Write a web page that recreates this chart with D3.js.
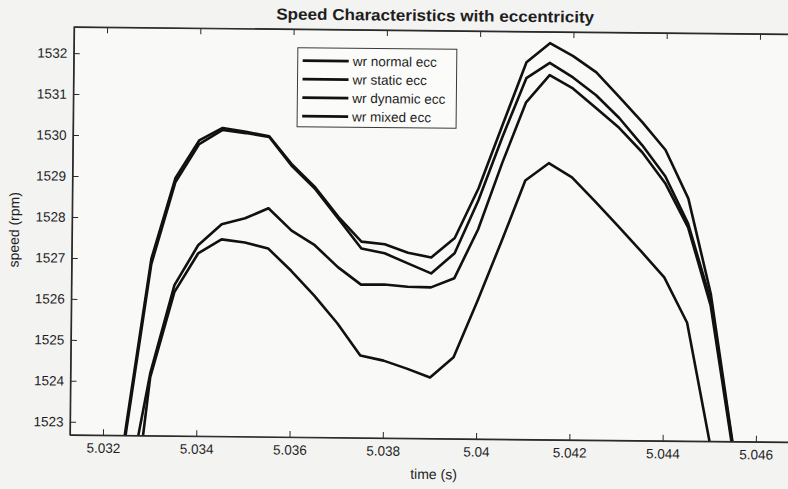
<!DOCTYPE html>
<html>
<head>
<meta charset="utf-8">
<script src="https://cdn.jsdelivr.net/npm/d3@7"></script>
<style>
  html, body { margin: 0; padding: 0; background: #f3f3f2; }
  svg { display: block; }
  text { font-family: "Liberation Sans", Arial, Helvetica, sans-serif; fill: #1e1e1e; }
</style>
</head>
<body>
<svg id="chart" width="788" height="489"></svg>
<script>
// ---- data ----
const time = [5.032, 5.0325, 5.033, 5.0335, 5.034, 5.0345, 5.035, 5.0355, 5.036, 5.0365,
              5.037, 5.0375, 5.038, 5.0385, 5.039, 5.0395, 5.040, 5.0405, 5.041, 5.0415,
              5.042, 5.0425, 5.043, 5.0435, 5.044, 5.0445, 5.045, 5.0455, 5.046];

const wrNormal  = [1518.6, 1522.96, 1527.00, 1528.98, 1529.90, 1530.21, 1530.12, 1530.02, 1529.33, 1528.78,
                   1528.07, 1527.47, 1527.41, 1527.21, 1527.10, 1527.58, 1528.80, 1530.35, 1531.89, 1532.36,
                   1532.05, 1531.66, 1531.06, 1530.45, 1529.78, 1528.60, 1526.29, 1522.66, 1518.2];
const wrStatic  = [1518.4, 1522.81, 1526.87, 1528.88, 1529.81, 1530.16, 1530.09, 1530.00, 1529.29, 1528.74,
                   1528.02, 1527.30, 1527.19, 1526.95, 1526.71, 1527.21, 1528.51, 1530.06, 1531.50, 1531.88,
                   1531.53, 1531.10, 1530.55, 1529.89, 1529.14, 1527.99, 1526.12, 1522.61, 1518.2];
const wrDynamic = [1516.5, 1521.06, 1524.20, 1526.36, 1527.34, 1527.86, 1528.01, 1528.26, 1527.72, 1527.37,
                   1526.84, 1526.42, 1526.43, 1526.38, 1526.37, 1526.60, 1527.80, 1529.42, 1530.91, 1531.58,
                   1531.26, 1530.79, 1530.31, 1529.72, 1528.97, 1527.90, 1526.00, 1522.51, 1518.2];
const wrMixed   = [1514.5, 1519.05, 1524.10, 1526.19, 1527.14, 1527.49, 1527.42, 1527.28, 1526.74, 1526.14,
                   1525.47, 1524.69, 1524.57, 1524.38, 1524.17, 1524.67, 1526.05, 1527.50, 1529.00, 1529.43,
                   1529.09, 1528.51, 1527.91, 1527.30, 1526.67, 1525.57, 1522.71, 1518.5, 1515.0];

const seriesNames = ["wr normal ecc", "wr static ecc", "wr dynamic ecc", "wr mixed ecc"];
const seriesValues = [wrNormal, wrStatic, wrDynamic, wrMixed];

const xTicks = [5.032, 5.034, 5.036, 5.038, 5.040, 5.042, 5.044, 5.046];
const xTickLabels = ["5.032", "5.034", "5.036", "5.038", "5.04", "5.042", "5.044", "5.046"];
const yTicks = [1523, 1524, 1525, 1526, 1527, 1528, 1529, 1530, 1531, 1532];

const titleText = "Speed Characteristics with eccentricity";
const xLabel = "time (s)";
const yLabel = "speed (rpm)";

// ---- layout ----
const plot = { left: 72, right: 800, top: 30.5, bottom: 438.5 };
const svg = d3.select("#chart");

svg.append("rect").attr("width", 788).attr("height", 489).attr("fill", "#f3f3f2");

// the scanned reference is slightly tilted
const root = svg.append("g").attr("transform", "rotate(0.58, 430, 232)");

const x = d3.scaleLinear().domain([5.031292, 5.046901]).range([plot.left, plot.right]);
const y = d3.scaleLinear().domain([1522.68, 1532.64]).range([plot.bottom, plot.top]);

root.append("rect")
  .attr("x", plot.left).attr("y", plot.top)
  .attr("width", plot.right - plot.left).attr("height", plot.bottom - plot.top)
  .attr("fill", "#f9f9f8");

root.append("defs").append("clipPath").attr("id", "clip")
  .append("rect")
  .attr("x", plot.left).attr("y", plot.top)
  .attr("width", plot.right - plot.left).attr("height", plot.bottom - plot.top);

// ---- axes ----
const fs = 13.5;
const xAxis = d3.axisBottom(x).tickValues(xTicks)
  .tickFormat((d, i) => xTickLabels[i]).tickSize(-6).tickSizeOuter(0).tickPadding(8);
const gx = root.append("g").attr("transform", `translate(0,${plot.bottom})`).call(xAxis);

const xAxisTop = d3.axisTop(x).tickValues(xTicks).tickFormat("").tickSize(-6).tickSizeOuter(0);
const gxt = root.append("g").attr("transform", `translate(0,${plot.top})`).call(xAxisTop);

const yAxis = d3.axisLeft(y).tickValues(yTicks).tickFormat(d3.format("d"))
  .tickSize(-6).tickSizeOuter(0).tickPadding(6.5);
const gy = root.append("g").attr("transform", `translate(${plot.left},0)`).call(yAxis);

[gx, gxt, gy].forEach(g => {
  g.selectAll("path.domain").attr("stroke", "#2a2a2a").attr("stroke-width", 1.2);
  g.selectAll(".tick line").attr("stroke", "#2a2a2a").attr("stroke-width", 1);
  g.selectAll(".tick text").attr("font-size", fs).attr("fill", "#1e1e1e")
    .attr("font-family", '"Liberation Sans", Arial, sans-serif');
});

// ---- lines ----
const line = d3.line().x((d, i) => x(time[i])).y(d => y(d));
const lines = root.append("g").attr("clip-path", "url(#clip)");
seriesValues.forEach(vals => {
  lines.append("path").datum(vals)
    .attr("d", line)
    .attr("fill", "none")
    .attr("stroke", "#111")
    .attr("stroke-width", 2.6)
    .attr("stroke-linejoin", "round");
});

// frame (left/top/bottom; right edge is off the picture)
root.append("rect")
  .attr("x", plot.left).attr("y", plot.top)
  .attr("width", plot.right - plot.left).attr("height", plot.bottom - plot.top)
  .attr("fill", "none").attr("stroke", "#2a2a2a").attr("stroke-width", 1.2);

// ---- title & labels ----
root.append("text")
  .attr("x", 433).attr("y", 21)
  .attr("text-anchor", "middle")
  .attr("font-weight", "bold")
  .attr("font-size", 16)
  .attr("textLength", 318)
  .attr("lengthAdjust", "spacingAndGlyphs")
  .text(titleText);

root.append("text")
  .attr("x", 436).attr("y", 479)
  .attr("text-anchor", "middle")
  .attr("font-size", 14)
  .text(xLabel);

root.append("text")
  .attr("transform", "translate(19,234) rotate(-90)")
  .attr("text-anchor", "middle")
  .attr("font-size", 14)
  .text(yLabel);

// ---- legend ----
const lg = root.append("g");
lg.append("rect")
  .attr("x", 296).attr("y", 49).attr("width", 159).attr("height", 79)
  .attr("fill", "#fbfbfa").attr("stroke", "#3a3a3a").attr("stroke-width", 1);
const rowY = d3.scalePoint().domain(seriesNames).range([62, 117.5]);
seriesNames.forEach(name => {
  lg.append("line")
    .attr("x1", 301).attr("x2", 347)
    .attr("y1", rowY(name)).attr("y2", rowY(name))
    .attr("stroke", "#111").attr("stroke-width", 2.8);
  lg.append("text")
    .attr("x", 351).attr("y", rowY(name))
    .attr("dy", "0.35em")
    .attr("font-size", 13.5)
    .text(name);
});
</script>
</body>
</html>
